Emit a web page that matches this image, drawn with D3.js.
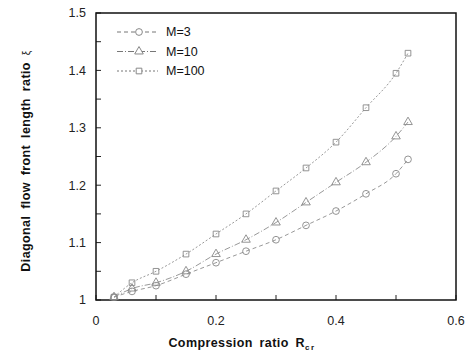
<!DOCTYPE html>
<html lang="en">
<head>
    <meta charset="UTF-8">
    <title>Diagonal flow front length ratio</title>
    <script src="https://d3js.org/d3.v7.min.js"></script>
    <style>
        body { margin: 0; background: #fff; }
        svg { font-family: "Liberation Sans", Arial, sans-serif; }
        .tick-label { font-size: 12.5px; fill: #222; }
        .axis-title { font-size: 12.5px; font-weight: bold; fill: #111; word-spacing: 3px; letter-spacing: 0.4px; }
        .legend { font-size: 12.5px; fill: #111; }
    </style>
</head>
<body>
    <svg></svg>

    <script>
        // compression ratio values (x)
        const ratios = [0.03, 0.06, 0.1, 0.15, 0.2, 0.25, 0.3, 0.35, 0.4, 0.45, 0.5, 0.52];

        // flow front length ratio for each M
        const m3   = [1.005, 1.015, 1.025, 1.045, 1.065, 1.085, 1.105, 1.13, 1.155, 1.185, 1.22, 1.245];
        const m10  = [1.005, 1.02, 1.03, 1.05, 1.08, 1.105, 1.135, 1.17, 1.205, 1.24, 1.285, 1.31];
        const m100 = [1.005, 1.03, 1.05, 1.08, 1.115, 1.15, 1.19, 1.23, 1.275, 1.335, 1.395, 1.43];

        const seriesNames = ["M=3", "M=10", "M=100"];
        const xTicks = [0, 0.2, 0.4, 0.6];
        const yTicks = [1, 1.1, 1.2, 1.3, 1.4, 1.5];

        const width = 471, height = 358;
        const margin = {top: 13, right: 15, bottom: 58, left: 96};

        const svg = d3.select("svg")
            .attr("width", width)
            .attr("height", height);

        const x = d3.scaleLinear()
            .domain([0, 0.6])
            .range([margin.left, width - margin.right]);

        const y = d3.scaleLinear()
            .domain([1, 1.5])
            .range([height - margin.bottom, margin.top]);

        const series = [
            {name: seriesNames[0], values: m3,   symbol: d3.symbolCircle,   size: 36, dash: "4,3"},
            {name: seriesNames[1], values: m10,  symbol: d3.symbolTriangle, size: 32, dash: "6,2,1,2"},
            {name: seriesNames[2], values: m100, symbol: d3.symbolSquare,   size: 32, dash: "2,2"}
        ];

        // minor ticks inside the frame
        svg.append("g")
            .attr("stroke", "#222")
            .selectAll("line")
            .data(d3.range(0, 0.61, 0.1))
            .join("line")
                .attr("x1", d => x(d)).attr("x2", d => x(d))
                .attr("y1", y(1)).attr("y2", y(1) - 5);

        svg.append("g")
            .attr("stroke", "#222")
            .selectAll("line")
            .data(d3.range(1, 1.501, 0.05))
            .join("line")
                .attr("x1", x(0)).attr("x2", x(0) + 5)
                .attr("y1", d => y(d)).attr("y2", d => y(d));

        // frame
        svg.append("rect")
            .attr("x", x(0))
            .attr("y", y(1.5))
            .attr("width", x(0.6) - x(0))
            .attr("height", y(1) - y(1.5))
            .attr("fill", "none")
            .attr("stroke", "#111")
            .attr("stroke-width", 1.5);

        // tick labels
        svg.append("g")
            .selectAll("text")
            .data(xTicks)
            .join("text")
                .attr("class", "tick-label")
                .attr("x", d => x(d))
                .attr("y", y(1) + 25)
                .attr("text-anchor", "middle")
                .text(d => d);

        svg.append("g")
            .selectAll("text")
            .data(yTicks)
            .join("text")
                .attr("class", "tick-label")
                .attr("x", x(0) - 10)
                .attr("y", d => y(d))
                .attr("dy", "0.35em")
                .attr("text-anchor", "end")
                .text(d => d);

        // axis titles
        const xt = svg.append("text")
            .attr("class", "axis-title")
            .attr("x", 242)
            .attr("y", 347)
            .attr("text-anchor", "middle")
            .text("Compression ratio R");
        xt.append("tspan")
            .attr("font-size", "8px")
            .attr("letter-spacing", "1.5px")
            .attr("dy", "3")
            .text("cr");

        const yt = svg.append("text")
            .attr("class", "axis-title")
            .attr("transform", "translate(30,161) rotate(-90)")
            .attr("text-anchor", "middle")
            .text("Diagonal flow front length ratio ");
        yt.append("tspan")
            .attr("font-weight", "normal")
            .attr("font-size", "10px")
            .text("ξ");

        // curves
        const line = d3.line()
            .x((d, i) => x(ratios[i]))
            .y(d => y(d))
            .curve(d3.curveMonotoneX);

        const groups = svg.append("g")
            .selectAll("g")
            .data(series)
            .join("g");

        groups.append("path")
            .attr("d", d => line(d.values))
            .attr("fill", "none")
            .attr("stroke", "#999")
            .attr("stroke-width", 1)
            .attr("stroke-dasharray", d => d.dash);

        groups.selectAll("path.mark")
            .data(d => d.values.map((v, i) => ({v, i, s: d})))
            .join("path")
                .attr("class", "mark")
                .attr("transform", d => `translate(${x(ratios[d.i])},${y(d.v)})`)
                .attr("d", d => d3.symbol(d.s.symbol, d.s.size)())
                .attr("fill", "none")
                .attr("stroke", "#888")
                .attr("stroke-width", 0.9);

        // legend
        const legend = svg.append("g");
        series.forEach((s, i) => {
            const ly = 32 + i * 19.5;
            legend.append("line")
                .attr("x1", 117).attr("x2", 158)
                .attr("y1", ly).attr("y2", ly)
                .attr("stroke", "#777")
                .attr("stroke-dasharray", s.dash);
            legend.append("path")
                .attr("transform", `translate(139,${ly})`)
                .attr("d", d3.symbol(s.symbol, s.size)())
                .attr("fill", "#fff")
                .attr("stroke", "#888");
            legend.append("text")
                .attr("class", "legend")
                .attr("x", 166)
                .attr("y", ly)
                .attr("dy", "0.35em")
                .text(s.name);
        });
    </script>
</body>
</html>
